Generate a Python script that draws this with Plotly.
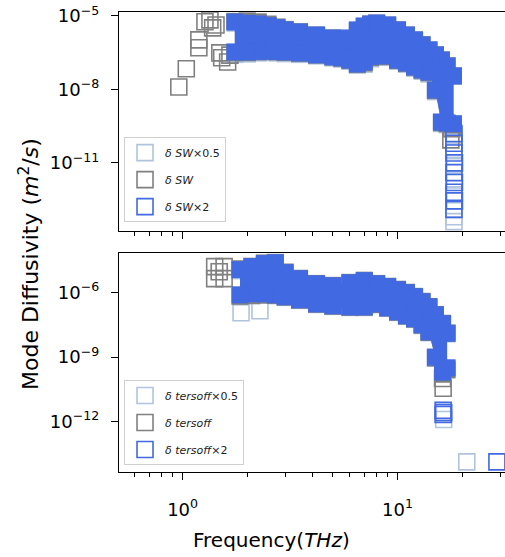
import numpy as np
import plotly.graph_objects as go

# ---------------- Stillinger-Weber panel (top) ----------------
# frequencies (THz) sampled along the dense band of modes
sw_freq = [1.75, 2.0, 2.25, 2.5, 2.75, 3.0, 3.5, 4.2, 5.0, 5.5, 6.0, 6.5, 7.0,
           7.5, 8.0, 9.0, 10.0, 11.0, 12.0, 13.0, 14.0, 15.0, 16.0, 17.0, 18.2]
# log10 of diffusivity (m^2/s) along the upper / lower edge of each band
sw_x2_hi = [-5.25, -5.30, -5.33, -5.40, -5.48, -5.57, -5.65, -5.78, -5.90, -5.98, -5.90, -5.57, -5.41,
            -5.33, -5.29, -5.37, -5.57, -5.78, -5.98, -6.18, -6.39, -6.59, -6.80, -7.04, -7.45]
sw_x2_lo = [-6.47, -6.47, -6.45, -6.43, -6.45, -6.47, -6.51, -6.59, -6.67, -6.71, -6.80, -6.96, -6.88,
            -6.65, -6.55, -6.63, -6.80, -6.92, -7.08, -7.20, -7.29, -8.02, -9.33, -9.37, -9.40]
sw_base_hi = [-5.22, -5.20, -5.24, -5.33, -5.45, -5.55, -5.65, -5.78, -5.90, -5.98, -5.92, -5.60, -5.43,
              -5.33, -5.29, -5.37, -5.57, -5.78, -5.98, -6.18, -6.39, -6.59, -6.80, -7.04, -7.45]
sw_base_lo = [-6.50, -6.50, -6.47, -6.45, -6.47, -6.49, -6.53, -6.60, -6.68, -6.73, -6.82, -6.98, -6.92,
              -6.70, -6.62, -6.66, -6.82, -6.94, -7.10, -7.22, -7.32, -8.05, -9.36, -9.40, -9.45]
sw_half_hi = [-5.30, -5.33, -5.36, -5.42, -5.50, -5.58, -5.66, -5.79, -5.91, -5.99, -5.93, -5.62, -5.45,
              -5.36, -5.32, -5.39, -5.58, -5.79, -5.99, -6.19, -6.40, -6.60, -6.81, -7.05, -7.46]
sw_half_lo = [-6.58, -6.56, -6.52, -6.50, -6.52, -6.55, -6.58, -6.64, -6.72, -6.77, -6.86, -7.02, -6.98,
              -6.76, -6.68, -6.70, -6.86, -6.98, -7.14, -7.27, -7.38, -8.10, -9.40, -9.45, -9.50]

# isolated modes (low-frequency outliers and the high-frequency tail)
sw_x2_pts_f = [18.3, 18.3, 18.3, 18.4, 18.3, 18.4, 18.3, 18.4, 18.3]
sw_x2_pts_d = [-9.8, -10.2, -10.6, -11.0, -11.4, -11.8, -12.2, -12.55, -12.9]
sw_base_pts_f = [0.96, 1.04, 1.19, 1.19, 1.27, 1.34, 1.38, 1.43, 1.49, 1.52, 1.62, 1.66, 17.7, 17.9]
sw_base_pts_d = [-7.9, -7.16, -5.98, -6.3, -5.24, -5.16, -5.49, -5.37, -6.51, -6.71, -6.88, -6.6, -10.06, -9.6]
sw_half_pts_f = [18.3, 18.3, 18.3, 18.3, 18.3, 18.3, 18.3, 18.3]
sw_half_pts_d = [-9.9, -10.5, -11.1, -11.7, -12.3, -12.9, -13.2, -13.4]

# ---------------- Tersoff panel (bottom) ----------------
t_freq = [1.85, 2.1, 2.4, 2.7, 3.0, 3.5, 4.2, 5.0, 6.0, 7.0, 8.0, 9.0, 10.0,
          11.0, 12.0, 13.0, 14.0, 15.0, 16.2, 17.0]
t_x2_hi = [-4.94, -4.80, -4.66, -4.62, -5.08, -5.36, -5.60, -5.69, -5.55, -5.45, -5.60, -5.73, -5.87,
           -6.01, -6.20, -6.43, -6.67, -7.04, -7.45, -7.90]
t_x2_lo = [-6.11, -6.06, -6.06, -6.11, -6.20, -6.34, -6.53, -6.62, -6.67, -6.67, -6.53, -6.71, -6.90,
           -7.08, -7.22, -7.50, -7.83, -9.00, -9.70, -9.50]
t_base_hi = [-4.90, -4.78, -4.63, -4.60, -5.05, -5.34, -5.58, -5.67, -5.53, -5.43, -5.58, -5.71, -5.85,
             -5.99, -6.18, -6.41, -6.65, -7.02, -7.43, -7.88]
t_base_lo = [-6.18, -6.15, -6.12, -6.14, -6.22, -6.36, -6.55, -6.64, -6.69, -6.69, -6.56, -6.73, -6.92,
             -7.10, -7.24, -7.52, -7.86, -9.05, -9.80, -9.60]
t_half_hi = [-5.00, -4.86, -4.70, -4.66, -5.12, -5.40, -5.63, -5.72, -5.58, -5.48, -5.63, -5.76, -5.90,
             -6.04, -6.23, -6.46, -6.70, -7.07, -7.48, -7.93]
t_half_lo = [-6.20, -6.16, -6.14, -6.16, -6.24, -6.38, -6.57, -6.66, -6.71, -6.71, -6.58, -6.75, -6.94,
             -7.12, -7.26, -7.55, -7.88, -9.05, -9.75, -9.55]

t_x2_pts_f = [16.3, 16.4, 16.3, 29.0]
t_x2_pts_d = [-11.48, -11.58, -11.67, -13.87]
t_base_pts_f = [1.41, 1.56, 1.41, 1.56, 1.48, 16.2, 16.3]
t_base_pts_d = [-4.80, -4.80, -5.36, -5.36, -5.04, -10.0, -10.45]
t_half_pts_f = [1.87, 2.29, 16.4, 21.0]
t_half_pts_d = [-6.94, -6.85, -11.9, -13.87]

# ---------------- styling ----------------
LIGHT = "#b0c4de"
GRAY = "#808080"
BLUE = "#4169e1"
FONT = "DejaVu Sans"

fig = go.Figure()


def add_band(freq, hi, lo, color, xa, ya):
    """Dense band of modes: filled outline with square marks along its edges."""
    x = list(freq) + list(freq)[::-1]
    y = 10 ** np.array(list(hi) + list(lo)[::-1])
    fig.add_trace(go.Scatter(
        x=x, y=y, mode="markers", fill="toself", fillcolor=color,
        marker=dict(symbol="square", size=17, color=color, line=dict(width=0)),
        xaxis=xa, yaxis=ya, showlegend=False, hoverinfo="skip"))


def add_points(f, d, color, name, xa, ya, legend):
    fig.add_trace(go.Scatter(
        x=f, y=10 ** np.array(d), mode="markers", name=name,
        marker=dict(symbol="square-open", size=16, color=color, line=dict(width=1.6, color=color)),
        xaxis=xa, yaxis=ya, legend=legend, legendgroup=name))


# top panel
add_band(sw_freq, sw_half_hi, sw_half_lo, LIGHT, "x", "y")
add_points(sw_half_pts_f, sw_half_pts_d, LIGHT, "<i>δ SW</i>×0.5", "x", "y", "legend")
add_band(sw_freq, sw_base_hi, sw_base_lo, GRAY, "x", "y")
add_points(sw_base_pts_f, sw_base_pts_d, GRAY, "<i>δ SW</i>", "x", "y", "legend")
add_band(sw_freq, sw_x2_hi, sw_x2_lo, BLUE, "x", "y")
add_points(sw_x2_pts_f, sw_x2_pts_d, BLUE, "<i>δ SW</i>×2", "x", "y", "legend")

# bottom panel
add_band(t_freq, t_half_hi, t_half_lo, LIGHT, "x2", "y2")
add_points(t_half_pts_f, t_half_pts_d, LIGHT, "<i>δ tersoff</i>×0.5", "x2", "y2", "legend2")
add_band(t_freq, t_base_hi, t_base_lo, GRAY, "x2", "y2")
add_points(t_base_pts_f, t_base_pts_d, GRAY, "<i>δ tersoff</i>", "x2", "y2", "legend2")
add_band(t_freq, t_x2_hi, t_x2_lo, BLUE, "x2", "y2")
add_points(t_x2_pts_f, t_x2_pts_d, BLUE, "<i>δ tersoff</i>×2", "x2", "y2", "legend2")

x_major = [1, 10]
x_major_text = ["10<sup>0</sup>", "10<sup>1</sup>"]
x_minor = [0.6, 0.7, 0.8, 0.9, 2, 3, 4, 5, 6, 7, 8, 9, 20, 30]
top_yticks = [1e-5, 1e-8, 1e-11]
top_ytext = ["10<sup>−5</sup>", "10<sup>−8</sup>", "10<sup>−11</sup>"]
bot_yticks = [1e-6, 1e-9, 1e-12]
bot_ytext = ["10<sup>−6</sup>", "10<sup>−9</sup>", "10<sup>−12</sup>"]

axis_common = dict(showline=True, linecolor="black", linewidth=1.3, ticks="outside",
                   ticklen=7, tickwidth=1.2, tickcolor="black", showgrid=False,
                   zeroline=False, tickfont=dict(family=FONT, size=18, color="black"))

xaxis_common = dict(type="log", range=[-0.296, 1.5], tickmode="array",
                    tickvals=x_major, ticktext=x_major_text, mirror=True,
                    minor=dict(tickmode="array", tickvals=x_minor, ticks="outside",
                               ticklen=4, tickwidth=1, tickcolor="black", showgrid=False),
                    **axis_common)

legend_common = dict(x=0.013, xanchor="left", yanchor="top", bgcolor="rgba(255,255,255,0.8)",
                     bordercolor="#d0d0d0", borderwidth=1,
                     font=dict(family=FONT, size=11, color="#222222"),
                     tracegroupgap=8, itemsizing="trace")

fig.update_layout(
    width=505, height=557,
    margin=dict(l=119, r=0, t=12, b=85),
    paper_bgcolor="white", plot_bgcolor="white",
    font=dict(family=FONT, color="black"),
    xaxis=dict(anchor="y", showticklabels=False, **xaxis_common),
    xaxis2=dict(anchor="y2", showticklabels=True, ticklabelstandoff=14, **xaxis_common),
    yaxis=dict(domain=[0.524, 1.0], type="log", range=[-13.78, -4.84], tickmode="array",
               tickvals=top_yticks, ticktext=top_ytext, ticklabelstandoff=8, **axis_common),
    yaxis2=dict(domain=[0.0, 0.476], type="log", range=[-14.34, -4.17], tickmode="array",
                tickvals=bot_yticks, ticktext=bot_ytext, ticklabelstandoff=8, **axis_common),
    legend=dict(y=0.728, **legend_common),
    legend2=dict(y=0.2, **legend_common),
    annotations=[
        dict(text="Frequency(<i>THz</i>)", xref="paper", yref="paper",
             x=(271 - 119) / 386, y=-(540 - 472) / 460, xanchor="center", yanchor="middle",
             showarrow=False, font=dict(family=FONT, size=20, color="black")),
        dict(text="Mode Diffusivity (<i>m</i><sup>2</sup>/<i>s</i>)", xref="paper", yref="paper",
             x=-(119 - 29) / 386, y=(472 - 264) / 460, xanchor="center", yanchor="middle",
             textangle=-90, showarrow=False, font=dict(family=FONT, size=22, color="black")),
    ],
)

fig.write_html("out.html")
